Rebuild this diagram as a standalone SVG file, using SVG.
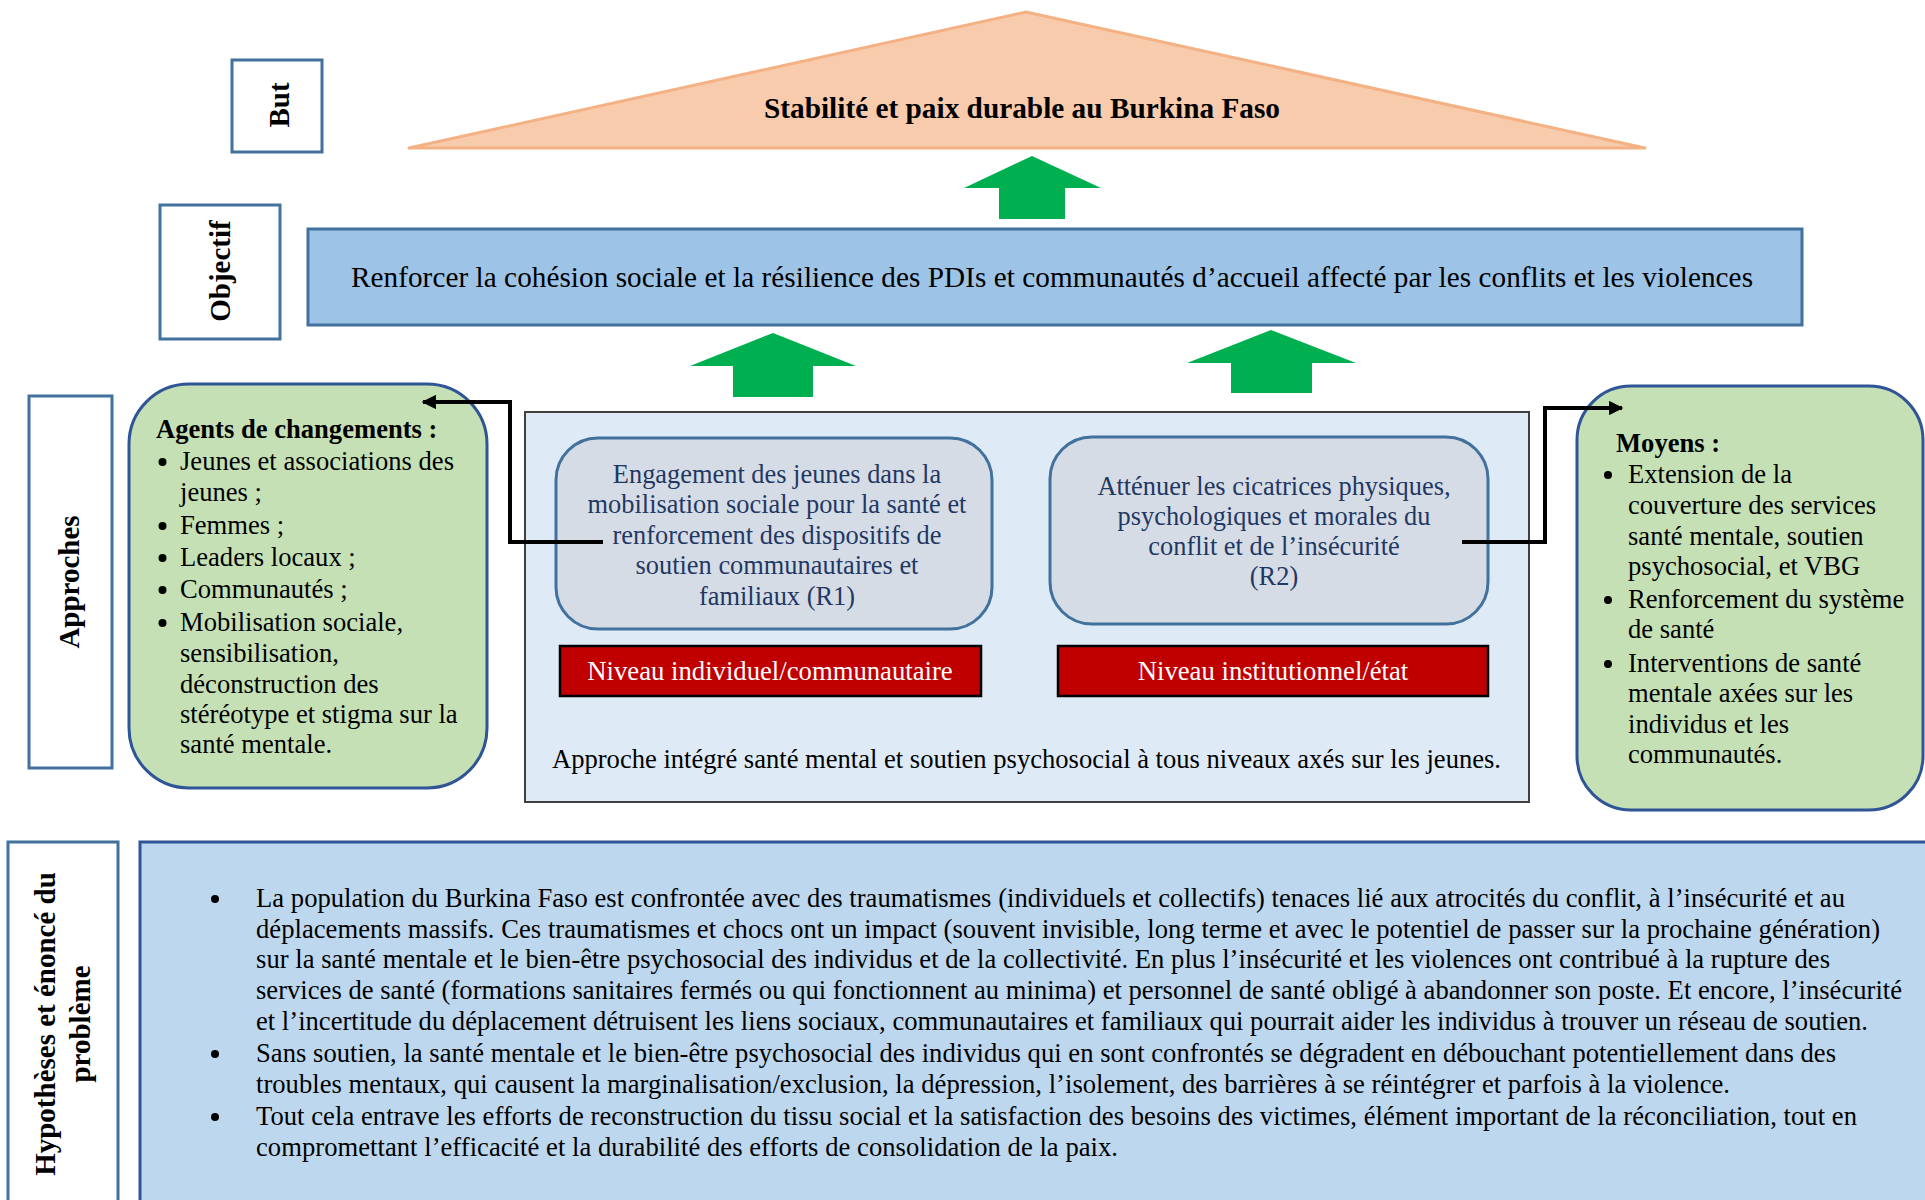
<svg xmlns="http://www.w3.org/2000/svg" width="1925" height="1200" viewBox="0 0 1925 1200">
<defs>
<style>
text{font-family:"Liberation Serif","Times New Roman",serif;fill:#000}
.lbl{font-size:29px;font-weight:bold;text-anchor:middle}
.lblbox{fill:#fff;stroke:#41719C;stroke-width:3}
.t26{font-size:26.6px}
.navy{fill:#1F3864;font-size:26.4px;text-anchor:middle}
.red{fill:#C00000;stroke:#000;stroke-width:2.5}
.wt{fill:#fff;font-size:26.7px;text-anchor:middle}
.garrow{fill:#00B050}
.green{fill:#C5E0B4;stroke:#2F5597;stroke-width:3}
.rbox{fill:#D6DCE5;stroke:#41719C;stroke-width:3}
.conn{fill:none;stroke:#000;stroke-width:4}
.dot{fill:#000}
</style>
<marker id="ah" viewBox="0 0 10 10" refX="9" refY="5" markerWidth="4" markerHeight="3.6" orient="auto" markerUnits="strokeWidth">
<path d="M0,0 L10,5 L0,10 z" fill="#000"/>
</marker>
</defs>
<rect width="1925" height="1200" fill="#fff"/>

<g id="but-label">
<rect class="lblbox" x="232" y="60" width="90" height="92"/>
<text class="lbl" transform="translate(289,105) rotate(-90)">But</text>
</g>

<g id="goal">
<polygon points="1026,12 409,148 1645,148" fill="#F8CBAD" stroke="#F4B183" stroke-width="3" stroke-linejoin="round"/>
<text x="1022" y="118" font-size="29.3" font-weight="bold" text-anchor="middle">Stabilité et paix durable au Burkina Faso</text>
</g>

<g id="objectif-label">
<rect class="lblbox" x="160" y="205" width="120" height="134"/>
<text class="lbl" transform="translate(230,271) rotate(-90)">Objectif</text>
</g>

<g id="objectif">
<rect x="308" y="229" width="1494" height="96" fill="#9DC3E6" stroke="#41719C" stroke-width="3"/>
<text x="351" y="287" font-size="29.2" textLength="1402" lengthAdjust="spacing">Renforcer la cohésion sociale et la résilience des PDIs et communautés d’accueil affecté par les conflits et les violences</text>
</g>

<g id="arrows-up">
<polygon class="garrow" points="1032,156 1101,188 1065,188 1065,219 999,219 999,188 964,188"/>
<polygon class="garrow" points="773,333 856,366 813,366 813,397 733,397 733,366 690,366"/>
<polygon class="garrow" points="1271,330 1356,363 1312,363 1312,393 1231,393 1231,363 1187,363"/>
</g>

<g id="approches-label">
<rect class="lblbox" x="29" y="396" width="83" height="372"/>
<text class="lbl" transform="translate(79,582) rotate(-90)">Approches</text>
</g>

<g id="agents">
<rect class="green" x="129" y="384" width="358" height="404" rx="60" ry="60"/>
<text x="156" y="438" font-size="26.6" font-weight="bold">Agents de changements :</text>
<g class="t26">
<circle class="dot" cx="162.5" cy="462" r="4"/>
<text x="180" y="470">Jeunes et associations des</text>
<text x="180" y="501">jeunes ;</text>
<circle class="dot" cx="162.5" cy="526" r="4"/>
<text x="180" y="534">Femmes ;</text>
<circle class="dot" cx="162.5" cy="558" r="4"/>
<text x="180" y="566">Leaders locaux ;</text>
<circle class="dot" cx="162.5" cy="590" r="4"/>
<text x="180" y="598">Communautés ;</text>
<circle class="dot" cx="162.5" cy="623" r="4"/>
<text x="180" y="631">Mobilisation sociale,</text>
<text x="180" y="662">sensibilisation,</text>
<text x="180" y="693">déconstruction des</text>
<text x="180" y="723">stéréotype et stigma sur la</text>
<text x="180" y="753">santé mentale.</text>
</g>
</g>

<g id="approche-integree">
<rect x="525" y="412" width="1004" height="390" fill="#DEEBF7" stroke="#404040" stroke-width="2"/>
<text x="552" y="768" font-size="26.6" textLength="949" lengthAdjust="spacing">Approche intégré santé mental et soutien psychosocial à tous niveaux axés sur les jeunes.</text>
</g>

<g id="r1">
<rect class="rbox" x="556" y="438" width="436" height="191" rx="42" ry="42"/>
<text class="navy" x="777" y="483">Engagement des jeunes dans la</text>
<text class="navy" x="777" y="513">mobilisation sociale pour la santé et</text>
<text class="navy" x="777" y="544">renforcement des dispositifs de</text>
<text class="navy" x="777" y="574">soutien communautaires et</text>
<text class="navy" x="777" y="605">familiaux (R1)</text>
</g>

<g id="r2">
<rect class="rbox" x="1050" y="437" width="438" height="187" rx="42" ry="42"/>
<text class="navy" x="1274" y="495">Atténuer les cicatrices physiques,</text>
<text class="navy" x="1274" y="525">psychologiques et morales du</text>
<text class="navy" x="1274" y="555">conflit et de l’insécurité</text>
<text class="navy" x="1274" y="585">(R2)</text>
</g>

<g id="niveau-individuel">
<rect class="red" x="560" y="646" width="421" height="50"/>
<text class="wt" x="770" y="680">Niveau individuel/communautaire</text>
</g>

<g id="niveau-institutionnel">
<rect class="red" x="1058" y="646" width="430" height="50"/>
<text class="wt" x="1273" y="680">Niveau institutionnel/état</text>
</g>

<g id="moyens">
<rect class="green" x="1577" y="386" width="346" height="424" rx="54" ry="54"/>
<text x="1616" y="452" font-size="26.6" font-weight="bold">Moyens :</text>
<g class="t26">
<circle class="dot" cx="1608" cy="475" r="4"/>
<text x="1628" y="483">Extension de la</text>
<text x="1628" y="514">couverture des services</text>
<text x="1628" y="545">santé mentale, soutien</text>
<text x="1628" y="575">psychosocial, et VBG</text>
<circle class="dot" cx="1608" cy="600" r="4"/>
<text x="1628" y="608">Renforcement du système</text>
<text x="1628" y="638">de santé</text>
<circle class="dot" cx="1608" cy="664" r="4"/>
<text x="1628" y="672">Interventions de santé</text>
<text x="1628" y="702">mentale axées sur les</text>
<text x="1628" y="733">individus et les</text>
<text x="1628" y="763">communautés.</text>
</g>
</g>

<g id="connectors">
<polyline class="conn" points="603,542 510,542 510,402 423,402" marker-end="url(#ah)"/>
<polyline class="conn" points="1462,542 1545,542 1545,408 1622,408" marker-end="url(#ah)"/>
</g>

<g id="hypotheses-label">
<rect class="lblbox" x="8" y="842" width="110" height="380"/>
<text class="lbl" transform="translate(55,1024) rotate(-90)">Hypothèses et énoncé du</text>
<text class="lbl" transform="translate(90,1024) rotate(-90)">problème</text>
</g>

<g id="hypotheses">
<rect x="140" y="842" width="1800" height="400" fill="#BDD7EE" stroke="#2F5597" stroke-width="3"/>
<g class="t26">
<circle class="dot" cx="215" cy="899" r="4"/>
<text x="256" y="907" textLength="1589" lengthAdjust="spacing">La population du Burkina Faso est confrontée avec des traumatismes (individuels et collectifs) tenaces lié aux atrocités du conflit, à l’insécurité et au</text>
<text x="256" y="938" textLength="1624" lengthAdjust="spacing">déplacements massifs. Ces traumatismes et chocs ont un impact (souvent invisible, long terme et avec le potentiel de passer sur la prochaine génération)</text>
<text x="256" y="968" textLength="1574" lengthAdjust="spacing">sur la santé mentale et le bien-être psychosocial des individus et de la collectivité. En plus l’insécurité et les violences ont contribué à la rupture des</text>
<text x="256" y="999" textLength="1646" lengthAdjust="spacing">services de santé (formations sanitaires fermés ou qui fonctionnent au minima) et personnel de santé obligé à abandonner son poste. Et encore, l’insécurité</text>
<text x="256" y="1030" textLength="1612" lengthAdjust="spacing">et l’incertitude du déplacement détruisent les liens sociaux, communautaires et familiaux qui pourrait aider les individus à trouver un réseau de soutien.</text>
<circle class="dot" cx="215" cy="1054" r="4"/>
<text x="256" y="1062" textLength="1580" lengthAdjust="spacing">Sans soutien, la santé mentale et le bien-être psychosocial des individus qui en sont confrontés se dégradent en débouchant potentiellement dans des</text>
<text x="256" y="1093" textLength="1474" lengthAdjust="spacing">troubles mentaux, qui causent la marginalisation/exclusion, la dépression, l’isolement, des barrières à se réintégrer et parfois à la violence.</text>
<circle class="dot" cx="215" cy="1117" r="4"/>
<text x="256" y="1125" textLength="1601" lengthAdjust="spacing">Tout cela entrave les efforts de reconstruction du tissu social et la satisfaction des besoins des victimes, élément important de la réconciliation, tout en</text>
<text x="256" y="1156" textLength="862" lengthAdjust="spacing">compromettant l’efficacité et la durabilité des efforts de consolidation de la paix.</text>
</g>
</g>
</svg>
